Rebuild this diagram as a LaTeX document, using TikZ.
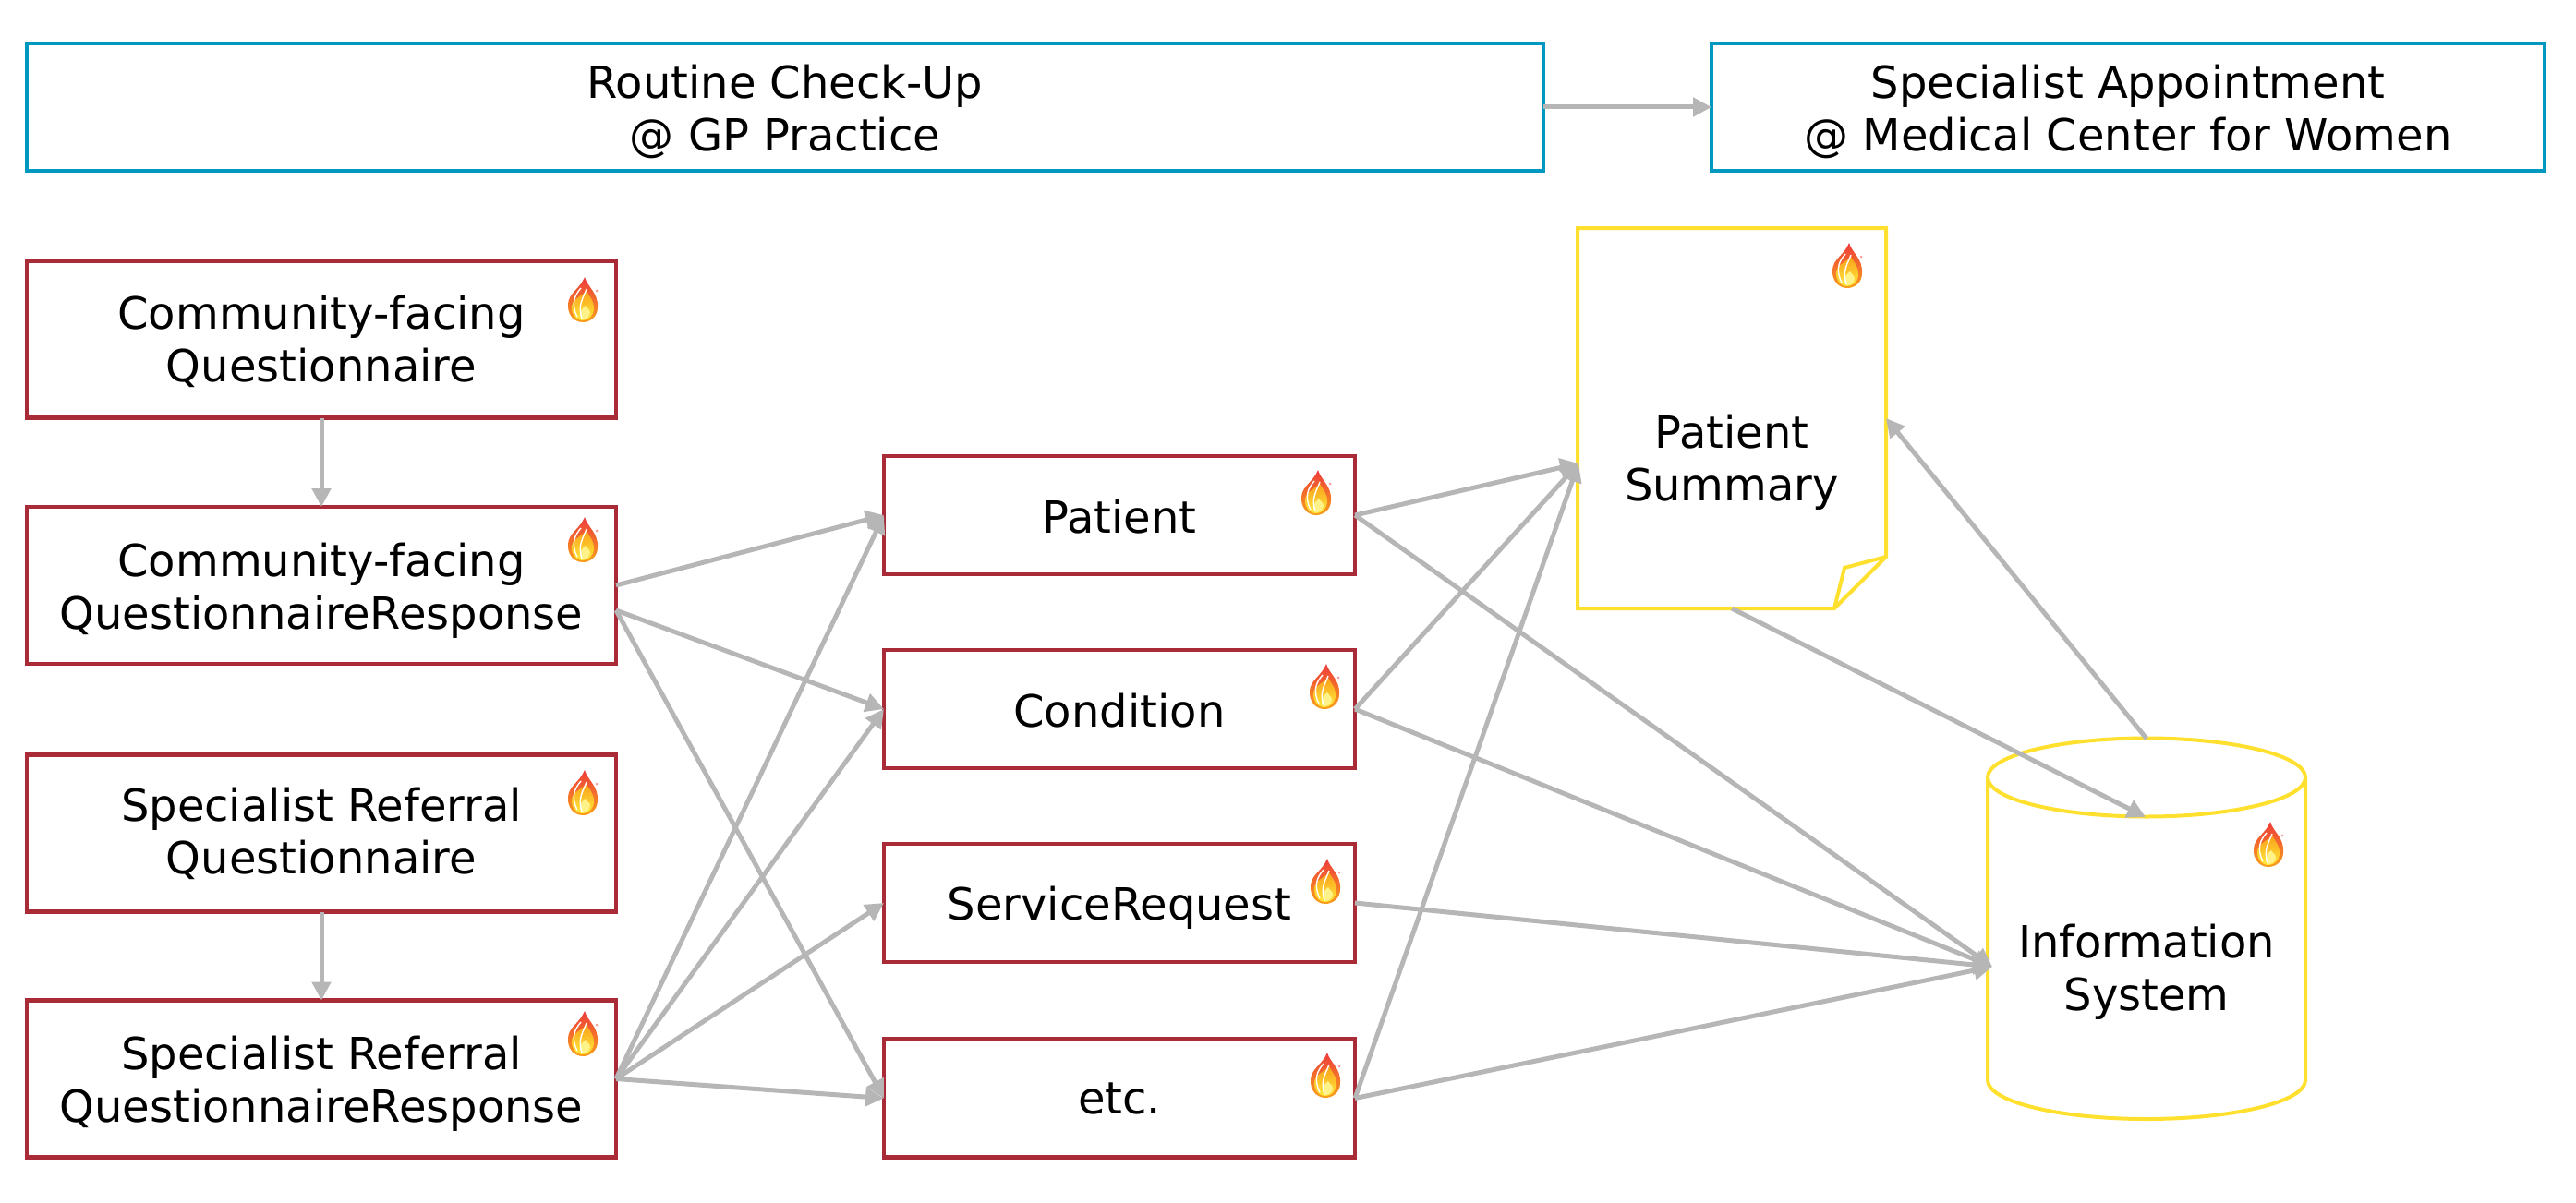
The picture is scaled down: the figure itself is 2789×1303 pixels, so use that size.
\documentclass[tikz,border=0pt]{standalone}
\usepackage{fontspec}
\setmainfont{DejaVu Sans}
\usetikzlibrary{arrows.meta}
\definecolor{visitblue}{HTML}{0098BF}
\definecolor{fhirred}{HTML}{A82B37}
\definecolor{docyellow}{HTML}{FFE02E}
\definecolor{flowgrey}{HTML}{B6B6B6}
\definecolor{flamered}{HTML}{EE3B3B}
\definecolor{flameorange}{HTML}{F9A01B}
\definecolor{flameyellow}{HTML}{FFE93B}
\tikzset{
	label text/.style = {align = center, font = \fontsize{48}{57}\selectfont, outer sep = 0pt, inner sep = 0pt},
	visitbox/.style = {draw = visitblue, line width = 4.6pt, outer sep = 0pt, minimum height = 138pt},
	leftbox/.style = {draw = fhirred, line width = 4.6pt, outer sep = 0pt, minimum width = 638pt, minimum height = 170pt},
	midbox/.style = {draw = fhirred, line width = 4.6pt, outer sep = 0pt, minimum width = 510pt, minimum height = 128pt},
	docline/.style = {draw = docyellow, line width = 4pt},
	flow/.style = {draw = flowgrey, line width = 5pt, -{Triangle[length = 20pt, width = 20pt]}},
	fhirflame/.pic = {
		\shade[top color = flamered, bottom color = flameorange] (2, -25) .. controls (5, -14) and (17, -8) .. (16, 8) .. controls (16, 18) and (8, 24) .. (0, 24) .. controls (-10, 24) and (-17, 15) .. (-16, 4) .. controls (-15, -8) and (-3, -12) .. (2, -25) -- cycle;
		\shade[top color = flameorange, bottom color = flameyellow] (4, -10) .. controls (7, -4) and (12, 0) .. (12, 9) .. controls (12, 17) and (6, 22) .. (0, 22) .. controls (-8, 22) and (-13, 14) .. (-12, 6) .. controls (-11, -1) and (-2, -4) .. (4, -10) -- cycle;
		\fill[flameyellow!60!white] (3, 6) .. controls (5, 10) and (8, 10) .. (8, 14) .. controls (7, 19) and (3, 21) .. (0, 21) .. controls (-4, 20) and (-5, 12) .. (3, 6) -- cycle;
		\draw[white, line width = 1.4pt] (-2, -13) .. controls (-9, -5) and (-13, 4) .. (-6, 18);
		\draw[white, line width = 1.4pt] (4, -12) .. controls (1, -3) and (-6, 5) .. (-1, 20);
		\fill[flamered!50!white] (15, -10) circle (1.5);
	}
}
\begin{document}
\begin{tikzpicture}[x = 1pt, y = -1pt]
	\useasboundingbox (0, 0) rectangle (2789, 1303);
	\node [visitbox, minimum width = 1642pt](checkup) at (850, 116) {};
	\node [label text](checkuptext) at (850, 120.5) {Routine Check-Up\\@ GP Practice};
	\node [visitbox, minimum width = 902pt](appointment) at (2304, 116) {};
	\node [label text](appointmenttext) at (2304, 121) {Specialist Appointment\\@ Medical Center for Women};
	\foreach \Name/\y/\Ytxt/\Txt in {cq/367.5/369.5/{Community-facing\\Questionnaire}, cqr/634/640/{Community-facing\\QuestionnaireResponse}, sq/902.5/902.5/{Specialist Referral\\Questionnaire}, sqr/1168.5/1173.5/{Specialist Referral\\QuestionnaireResponse}}
	{
		\node [leftbox](\Name) at (348, \y) {};
		\node [label text](\Name text) at (348, \Ytxt) {\Txt};
	}
	\foreach \Name/\y/\Ytxt/\Txt in {patient/558/560/Patient, condition/768/770/Condition, servicerequest/978/983/ServiceRequest, others/1189.5/1189.5/etc.}
	{
		\node [midbox](\Name) at (1212, \y) {};
		\node [label text](\Name text) at (1212, \Ytxt) {\Txt};
	}
	\draw [docline] (1708, 247) -- (2042, 247) -- (2042, 603) -- (1986, 659) -- (1708, 659) -- cycle;
	\draw [docline] (2042, 603) -- (1997, 615) -- (1986, 659);
	\node [label text](summary) at (1875, 500.5) {Patient\\Summary};
	\draw [docline] (2152, 842) -- (2152, 1170) arc[start angle = 180, end angle = 0, x radius = 172, y radius = 42] -- (2496, 842);
	\draw [docline] (2324, 842) ellipse [x radius = 172, y radius = 42.5];
	\node [label text](infosystem) at (2324, 1053) {Information\\System};
	\foreach \x/\y in {631/325, 631/585, 631/859, 631/1120, 1425/534, 1434/744, 1435/955, 1435/1165, 2000/288, 2456/915}
	{
		\pic at (\x, \y) {fhirflame};
	}
	\coordinate (cqrlow) at (667, 661);
	\coordinate (summaryin) at (1709, 502);
	\coordinate (summaryback) at (2042, 453);
	\coordinate (summaryout) at (1875, 659);
	\coordinate (infoin) at (2157, 1047);
	\coordinate (infotop) at (2324, 800);
	\coordinate (infofront) at (2323, 885);
	\foreach \a/\b in {checkup.east/appointment.west, cq.south/cqr.north, sq.south/sqr.north, cqr.east/patient.west, cqrlow/condition.west, cqrlow/others.west, sqr.east/patient.west, sqr.east/condition.west, sqr.east/servicerequest.west, sqr.east/others.west, patient.east/summaryin, condition.east/summaryin, others.east/summaryin, patient.east/infoin, condition.east/infoin, servicerequest.east/infoin, others.east/infoin, summaryout/infofront, infotop/summaryback}
	{
		\draw [flow] (\a) -- (\b);
	}
\end{tikzpicture}
\end{document}
